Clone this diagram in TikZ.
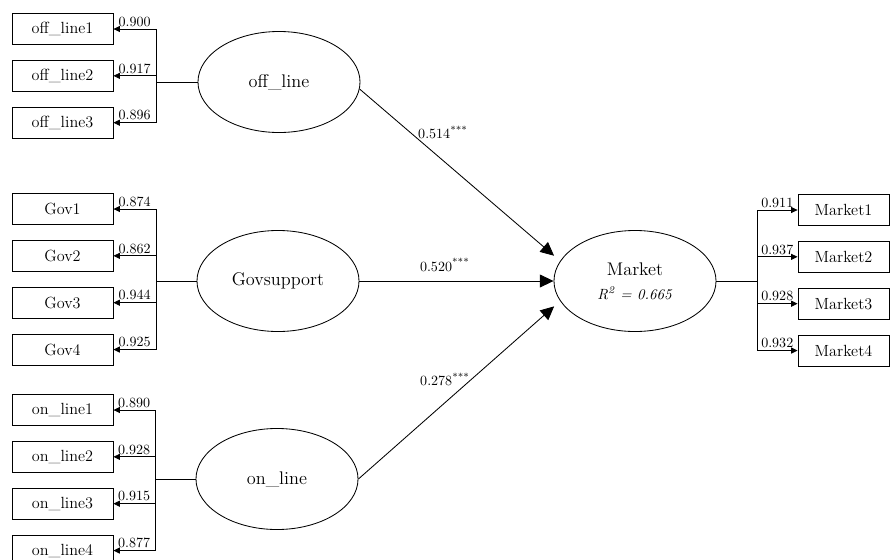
\documentclass[tikz,border=0pt]{standalone}
\usetikzlibrary{arrows.meta,positioning,shapes.geometric}

\begin{document}
\begin{tikzpicture}[x=0.025cm,y=-0.025cm,semithick,node distance=0.375cm,
    item/.style={draw,rectangle,minimum width=2.525cm,minimum height=0.775cm,inner sep=0pt,font=\fontsize{11.5}{13}\selectfont},
    mitem/.style={item,minimum width=2.275cm},
    latent/.style={draw,ellipse,minimum width=4.05cm,minimum height=2.525cm,inner sep=0pt,font=\fontsize{13}{15}\selectfont},
    loadedge/.style={-{Triangle[length=1.6mm,width=1.5mm]},to path={|- (\tikztotarget) \tikztonodes}},
    pathedge/.style={-{Triangle[length=3.4mm,width=3.2mm]}},
    coef/.style={font=\fontsize{10}{11}\selectfont,inner sep=1.5pt,pos=0.75,above},
    beta/.style={font=\fontsize{10}{12}\selectfont,inner sep=0pt}]

    \useasboundingbox (0,0) rectangle (890,560);

    % Define vertices
    \node[latent] (off) at (279,82) {off\_line};
    \node[latent] (gov) at (278,281) {Govsupport};
    \node[latent] (on) at (277,479) {on\_line};
    \node[latent,align=center] (mkt) at (635,281)
        {Market\\[2pt]{\fontsize{10.5}{12}\selectfont\textit{R\textsuperscript{2} = 0.665}}};

    \node[item] (o1) at (62.5,29) {off\_line1};
    \node[item] (o2) [below=of o1] {off\_line2};
    \node[item] (o3) [below=of o2] {off\_line3};

    \node[item] (g1) at (62.5,209) {Gov1};
    \node[item] (g2) [below=of g1] {Gov2};
    \node[item] (g3) [below=of g2] {Gov3};
    \node[item] (g4) [below=of g3] {Gov4};

    \node[item] (n1) at (62.5,410) {on\_line1};
    \node[item] (n2) [below=of n1] {on\_line2};
    \node[item] (n3) [below=of n2] {on\_line3};
    \node[item] (n4) [below=of n3] {on\_line4};

    \node[mitem] (m1) at (843.5,210) {Market1};
    \node[mitem] (m2) [below=of m1] {Market2};
    \node[mitem] (m3) [below=of m2] {Market3};
    \node[mitem] (m4) [below=of m3] {Market4};

    % Joints
    \coordinate (joff) at (156,82);
    \coordinate (jgov) at (156,281);
    \coordinate (jon) at (155,479);
    \coordinate (jmkt) at (757,281);

    % Draw edges
    \path (off) edge (joff)
          (gov) edge (jgov)
          (on) edge (jon)
          (mkt) edge (jmkt);

    \path (joff) edge[loadedge] node[coef] {0.900} (o1.east)
          (joff) edge[loadedge] node[coef] {0.917} (o2.east)
          (joff) edge[loadedge] node[coef] {0.896} (o3.east)
          (jgov) edge[loadedge] node[coef] {0.874} (g1.east)
          (jgov) edge[loadedge] node[coef] {0.862} (g2.east)
          (jgov) edge[loadedge] node[coef] {0.944} (g3.east)
          (jgov) edge[loadedge] node[coef] {0.925} (g4.east)
          (jon) edge[loadedge] node[coef] {0.890} (n1.east)
          (jon) edge[loadedge] node[coef] {0.928} (n2.east)
          (jon) edge[loadedge] node[coef] {0.915} (n3.east)
          (jon) edge[loadedge] node[coef] {0.877} (n4.east)
          (jmkt) edge[loadedge] node[coef] {0.911} (m1.west)
          (jmkt) edge[loadedge] node[coef] {0.937} (m2.west)
          (jmkt) edge[loadedge] node[coef] {0.928} (m3.west)
          (jmkt) edge[loadedge] node[coef] {0.932} (m4.west);

    \path (off.-5) edge[pathedge,shorten >=0.2cm]
              node[beta,pos=0.29,anchor=base west] {0.514\textsuperscript{***}} (mkt.165)
          (gov) edge[pathedge]
              node[beta,pos=0.31,anchor=base west,yshift=2.5mm] {0.520\textsuperscript{***}} (mkt)
          (on.east) edge[pathedge,shorten >=0.2cm]
              node[beta,pos=0.554,anchor=base east,yshift=-1.2mm] {0.278\textsuperscript{***}} (mkt.195);

\end{tikzpicture}
\end{document}
